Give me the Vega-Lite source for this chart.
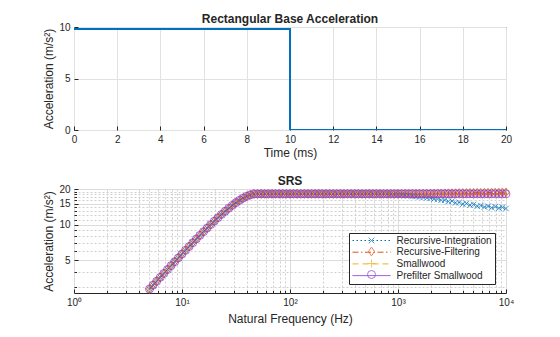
{
  "$schema": "https://vega.github.io/schema/vega-lite/v6.json",
  "background": "white",
  "padding": {"left": 42, "top": 12, "right": 10, "bottom": 5},
  "spacing": 15,
  "resolve": {"legend": {"color": "independent", "strokeDash": "independent", "stroke": "independent", "shape": "independent"}},
  "config": {
    "font": "Liberation Sans",
    "view": {"stroke": "#262626", "strokeWidth": 1},
    "axis": {
      "domain": false,
      "labelColor": "#262626",
      "labelFontSize": 10,
      "titleColor": "#262626",
      "titleFontSize": 12,
      "titleFontWeight": "normal",
      "tickColor": "#262626",
      "tickSize": -4,
      "labelPadding": 8,
      "titlePadding": 3,
      "gridColor": "#e1e1e1",
      "gridWidth": 1,
      "labelOverlap": false,
      "labelFlush": false
    },
    "title": {"fontSize": 12, "fontWeight": "bold", "color": "#262626", "offset": -4},
    "legend": {"labelFont": "Liberation Sans"}
  },
  "datasets": {
    "pulse": [
      {"t": 0, "a": 9.81},
      {"t": 10, "a": 9.81},
      {"t": 10, "a": 0},
      {"t": 20, "a": 0}
    ],
    "srs": [
      {"f": 5, "ri": 2.863, "rf": 2.863, "sw": 2.863, "ps": 2.863},
      {"f": 5.399, "ri": 3.089, "rf": 3.089, "sw": 3.089, "ps": 3.089},
      {"f": 5.83, "ri": 3.333, "rf": 3.333, "sw": 3.333, "ps": 3.333},
      {"f": 6.295, "ri": 3.595, "rf": 3.595, "sw": 3.595, "ps": 3.595},
      {"f": 6.797, "ri": 3.878, "rf": 3.878, "sw": 3.878, "ps": 3.878},
      {"f": 7.34, "ri": 4.183, "rf": 4.183, "sw": 4.183, "ps": 4.183},
      {"f": 7.925, "ri": 4.509, "rf": 4.509, "sw": 4.509, "ps": 4.509},
      {"f": 8.558, "ri": 4.861, "rf": 4.861, "sw": 4.861, "ps": 4.861},
      {"f": 9.241, "ri": 5.238, "rf": 5.238, "sw": 5.238, "ps": 5.238},
      {"f": 9.979, "ri": 5.644, "rf": 5.644, "sw": 5.644, "ps": 5.644},
      {"f": 10.775, "ri": 6.077, "rf": 6.077, "sw": 6.077, "ps": 6.077},
      {"f": 11.634, "ri": 6.541, "rf": 6.541, "sw": 6.541, "ps": 6.541},
      {"f": 12.563, "ri": 7.037, "rf": 7.037, "sw": 7.037, "ps": 7.037},
      {"f": 13.566, "ri": 7.566, "rf": 7.566, "sw": 7.566, "ps": 7.566},
      {"f": 14.648, "ri": 8.128, "rf": 8.128, "sw": 8.128, "ps": 8.128},
      {"f": 15.817, "ri": 8.724, "rf": 8.724, "sw": 8.724, "ps": 8.724},
      {"f": 17.079, "ri": 9.354, "rf": 9.354, "sw": 9.354, "ps": 9.354},
      {"f": 18.443, "ri": 10.02, "rf": 10.02, "sw": 10.02, "ps": 10.02},
      {"f": 19.914, "ri": 10.716, "rf": 10.716, "sw": 10.716, "ps": 10.716},
      {"f": 21.503, "ri": 11.447, "rf": 11.447, "sw": 11.447, "ps": 11.447},
      {"f": 23.219, "ri": 12.195, "rf": 12.195, "sw": 12.195, "ps": 12.195},
      {"f": 25.072, "ri": 12.968, "rf": 12.968, "sw": 12.968, "ps": 12.968},
      {"f": 27.073, "ri": 13.754, "rf": 13.754, "sw": 13.754, "ps": 13.754},
      {"f": 29.233, "ri": 14.541, "rf": 14.541, "sw": 14.541, "ps": 14.541},
      {"f": 31.567, "ri": 15.317, "rf": 15.317, "sw": 15.317, "ps": 15.317},
      {"f": 34.085, "ri": 16.06, "rf": 16.06, "sw": 16.06, "ps": 16.06},
      {"f": 36.805, "ri": 16.752, "rf": 16.752, "sw": 16.752, "ps": 16.752},
      {"f": 39.743, "ri": 17.36, "rf": 17.36, "sw": 17.36, "ps": 17.36},
      {"f": 42.916, "ri": 17.85, "rf": 17.85, "sw": 17.85, "ps": 17.85},
      {"f": 46.338, "ri": 18.18, "rf": 18.18, "sw": 18.18, "ps": 18.18},
      {"f": 50.04, "ri": 18.2, "rf": 18.2, "sw": 18.2, "ps": 18.2},
      {"f": 54.03, "ri": 18.2, "rf": 18.2, "sw": 18.2, "ps": 18.2},
      {"f": 58.34, "ri": 18.2, "rf": 18.2, "sw": 18.2, "ps": 18.2},
      {"f": 62.99, "ri": 18.2, "rf": 18.2, "sw": 18.2, "ps": 18.2},
      {"f": 68.02, "ri": 18.2, "rf": 18.2, "sw": 18.2, "ps": 18.2},
      {"f": 73.45, "ri": 18.2, "rf": 18.2, "sw": 18.2, "ps": 18.2},
      {"f": 79.31, "ri": 18.2, "rf": 18.2, "sw": 18.2, "ps": 18.2},
      {"f": 85.64, "ri": 18.2, "rf": 18.2, "sw": 18.2, "ps": 18.2},
      {"f": 92.47, "ri": 18.2, "rf": 18.2, "sw": 18.2, "ps": 18.2},
      {"f": 99.86, "ri": 18.2, "rf": 18.2, "sw": 18.2, "ps": 18.2},
      {"f": 107.8, "ri": 18.2, "rf": 18.2, "sw": 18.2, "ps": 18.2},
      {"f": 116.4, "ri": 18.2, "rf": 18.2, "sw": 18.2, "ps": 18.2},
      {"f": 125.7, "ri": 18.2, "rf": 18.2, "sw": 18.2, "ps": 18.2},
      {"f": 135.8, "ri": 18.2, "rf": 18.2, "sw": 18.2, "ps": 18.2},
      {"f": 146.6, "ri": 18.2, "rf": 18.2, "sw": 18.2, "ps": 18.2},
      {"f": 158.3, "ri": 18.2, "rf": 18.2, "sw": 18.2, "ps": 18.2},
      {"f": 170.9, "ri": 18.2, "rf": 18.2, "sw": 18.2, "ps": 18.2},
      {"f": 184.6, "ri": 18.2, "rf": 18.2, "sw": 18.2, "ps": 18.2},
      {"f": 199.3, "ri": 18.2, "rf": 18.2, "sw": 18.2, "ps": 18.2},
      {"f": 215.2, "ri": 18.2, "rf": 18.2, "sw": 18.2, "ps": 18.2},
      {"f": 232.4, "ri": 18.2, "rf": 18.2, "sw": 18.2, "ps": 18.2},
      {"f": 250.9, "ri": 18.2, "rf": 18.2, "sw": 18.2, "ps": 18.2},
      {"f": 270.9, "ri": 18.2, "rf": 18.2, "sw": 18.2, "ps": 18.2},
      {"f": 292.6, "ri": 18.2, "rf": 18.2, "sw": 18.2, "ps": 18.2},
      {"f": 315.9, "ri": 18.2, "rf": 18.2, "sw": 18.2, "ps": 18.2},
      {"f": 341.1, "ri": 18.2, "rf": 18.2, "sw": 18.2, "ps": 18.2},
      {"f": 368.3, "ri": 18.2, "rf": 18.2, "sw": 18.2, "ps": 18.2},
      {"f": 397.7, "ri": 18.2, "rf": 18.2, "sw": 18.2, "ps": 18.2},
      {"f": 429.5, "ri": 18.2, "rf": 18.2, "sw": 18.2, "ps": 18.2},
      {"f": 463.7, "ri": 18.2, "rf": 18.2, "sw": 18.2, "ps": 18.2},
      {"f": 500.7, "ri": 18.2, "rf": 18.2, "sw": 18.2, "ps": 18.2},
      {"f": 540.7, "ri": 18.2, "rf": 18.2, "sw": 18.2, "ps": 18.2},
      {"f": 583.8, "ri": 18.2, "rf": 18.2, "sw": 18.2, "ps": 18.2},
      {"f": 630.4, "ri": 18.2, "rf": 18.2, "sw": 18.2, "ps": 18.2},
      {"f": 680.7, "ri": 18.2, "rf": 18.2, "sw": 18.2, "ps": 18.2},
      {"f": 735, "ri": 18.2, "rf": 18.2, "sw": 18.2, "ps": 18.2},
      {"f": 793.7, "ri": 18.18, "rf": 18.2, "sw": 18.2, "ps": 18.2},
      {"f": 857, "ri": 18.1, "rf": 18.2, "sw": 18.2, "ps": 18.2},
      {"f": 925.4, "ri": 18.05, "rf": 18.2, "sw": 18.2, "ps": 18.2},
      {"f": 999.3, "ri": 17.95, "rf": 18.2, "sw": 18.2, "ps": 18.2},
      {"f": 1079, "ri": 17.85, "rf": 18.2, "sw": 18.2, "ps": 18.2},
      {"f": 1165, "ri": 17.7, "rf": 18.2, "sw": 18.2, "ps": 18.2},
      {"f": 1258, "ri": 17.6, "rf": 18.2, "sw": 18.2, "ps": 18.2},
      {"f": 1359, "ri": 17.4, "rf": 18.2, "sw": 18.2, "ps": 18.2},
      {"f": 1467, "ri": 17.3, "rf": 18.2, "sw": 18.2, "ps": 18.2},
      {"f": 1584, "ri": 17.1, "rf": 18.2, "sw": 18.2, "ps": 18.2},
      {"f": 1711, "ri": 17.0, "rf": 18.25, "sw": 18.2, "ps": 18.2},
      {"f": 1847, "ri": 16.8, "rf": 18.25, "sw": 18.2, "ps": 18.2},
      {"f": 1995, "ri": 16.7, "rf": 18.3, "sw": 18.2, "ps": 18.2},
      {"f": 2154, "ri": 16.45, "rf": 18.3, "sw": 18.2, "ps": 18.2},
      {"f": 2326, "ri": 16.4, "rf": 18.35, "sw": 18.2, "ps": 18.2},
      {"f": 2511, "ri": 16.1, "rf": 18.35, "sw": 18.2, "ps": 18.2},
      {"f": 2712, "ri": 16.1, "rf": 18.4, "sw": 18.2, "ps": 18.2},
      {"f": 2928, "ri": 15.7, "rf": 18.4, "sw": 18.2, "ps": 18.2},
      {"f": 3161, "ri": 15.8, "rf": 18.45, "sw": 18.2, "ps": 18.2},
      {"f": 3414, "ri": 15.3, "rf": 18.45, "sw": 18.2, "ps": 18.2},
      {"f": 3686, "ri": 15.4, "rf": 18.5, "sw": 18.2, "ps": 18.2},
      {"f": 3980, "ri": 14.9, "rf": 18.5, "sw": 18.2, "ps": 18.2},
      {"f": 4298, "ri": 15.1, "rf": 18.55, "sw": 18.2, "ps": 18.2},
      {"f": 4641, "ri": 14.6, "rf": 18.55, "sw": 18.2, "ps": 18.2},
      {"f": 5011, "ri": 14.8, "rf": 18.6, "sw": 18.2, "ps": 18.2},
      {"f": 5411, "ri": 14.3, "rf": 18.6, "sw": 18.2, "ps": 18.2},
      {"f": 5843, "ri": 14.5, "rf": 18.6, "sw": 18.2, "ps": 18.2},
      {"f": 6309, "ri": 14.1, "rf": 18.65, "sw": 18.2, "ps": 18.2},
      {"f": 6812, "ri": 14.3, "rf": 18.65, "sw": 18.2, "ps": 18.2},
      {"f": 7356, "ri": 13.9, "rf": 18.7, "sw": 18.2, "ps": 18.2},
      {"f": 7943, "ri": 14.2, "rf": 18.7, "sw": 18.2, "ps": 18.2},
      {"f": 8577, "ri": 13.8, "rf": 18.7, "sw": 18.2, "ps": 18.2},
      {"f": 9261, "ri": 14.0, "rf": 18.75, "sw": 18.2, "ps": 18.2},
      {"f": 10000, "ri": 13.7, "rf": 18.75, "sw": 18.2, "ps": 18.2}
    ]
  },
  "vconcat": [
    {
      "width": 432,
      "height": 103,
      "title": "Rectangular Base Acceleration",
      "data": {"name": "pulse"},
      "mark": {"type": "line", "color": "#0072BD", "strokeWidth": 2, "clip": true},
      "encoding": {
        "x": {
          "field": "t", "type": "quantitative",
          "scale": {"domain": [0, 20], "nice": false},
          "axis": {"title": "Time (ms)", "values": [0, 2, 4, 6, 8, 10, 12, 14, 16, 18, 20], "grid": true}
        },
        "y": {
          "field": "a", "type": "quantitative",
          "scale": {"domain": [0, 10], "nice": false},
          "axis": {"title": "Acceleration (m/s²)", "values": [0, 5, 10], "grid": true}
        }
      }
    },
    {
      "width": 432,
      "height": 104,
      "title": "SRS",
      "data": {"name": "srs"},
      "resolve": {"legend": {"color": "independent", "strokeDash": "independent", "stroke": "independent", "shape": "independent"}},
      "encoding": {
        "x": {
          "field": "f", "type": "quantitative",
          "scale": {"type": "log", "domain": [1, 10000], "nice": false},
          "axis": {
            "title": "Natural Frequency (Hz)",
            "titlePadding": 5,
            "values": [1, 2, 3, 4, 5, 6, 7, 8, 9, 10, 20, 30, 40, 50, 60, 70, 80, 90, 100, 200, 300, 400, 500, 600, 700, 800, 900, 1000, 2000, 3000, 4000, 5000, 6000, 7000, 8000, 9000, 10000],
            "labelExpr": "datum.value == 1 ? '10⁰' : datum.value == 10 ? '10¹' : datum.value == 100 ? '10²' : datum.value == 1000 ? '10³' : datum.value == 10000 ? '10⁴' : ''",
            "grid": true,
            "gridDash": {"condition": {"test": "indexof([1, 10, 100, 1000, 10000], datum.value) >= 0", "value": []}, "value": [2, 2]},
            "gridColor": {"condition": {"test": "indexof([1, 10, 100, 1000, 10000], datum.value) >= 0", "value": "#dcdcdc"}, "value": "#cfcfcf"},
            "tickSize": {"condition": {"test": "indexof([1, 10, 100, 1000, 10000], datum.value) >= 0", "value": -4}, "value": -2.5}
          }
        },
        "y": {
          "field": "acc", "type": "quantitative",
          "scale": {"type": "log", "domain": [2.65, 20], "nice": false, "zero": false},
          "axis": {
            "title": "Acceleration (m/s²)",
            "values": [3, 4, 5, 6, 7, 8, 9, 10, 11, 12, 13, 14, 15, 16, 17, 18, 19, 20],
            "labelExpr": "indexof([5, 10, 15, 20], datum.value) >= 0 ? '' + datum.value : ''",
            "grid": true,
            "gridDash": {"condition": {"test": "indexof([5, 10, 15, 20], datum.value) >= 0", "value": []}, "value": [2, 2]},
            "gridColor": {"condition": {"test": "indexof([5, 10, 15, 20], datum.value) >= 0", "value": "#dcdcdc"}, "value": "#cfcfcf"},
            "tickSize": {"condition": {"test": "indexof([5, 10, 15, 20], datum.value) >= 0", "value": -4}, "value": -2.5}
          }
        }
      },
      "layer": [
        {
          "transform": [{"fold": ["ri", "rf", "sw", "ps"], "as": ["series", "acc"]}],
          "mark": {"type": "line", "strokeWidth": 1, "clip": true},
          "encoding": {
            "color": {
              "field": "series", "type": "nominal",
              "scale": {"domain": ["ri", "rf", "sw", "ps", "none"], "range": ["#0072BD", "#D95319", "#EDB120", "#8A35D6", "#999999"]},
              "legend": {
                "title": null, "orient": "none", "legendX": 275, "legendY": 44, "zindex": 1,
                "values": ["ri", "rf", "sw", "ps"],
                "symbolType": "M-4.75,0H4.75", "symbolSize": 64, "symbolOffset": 15, "symbolStrokeWidth": 1,
                "labelOffset": 20, "labelFontSize": 10, "labelColor": "#262626",
                "padding": 2.5, "rowPadding": 1.7,
                "strokeColor": "#262626", "fillColor": "white",
                "labelExpr": "datum.label == 'ri' ? 'Recursive-Integration' : datum.label == 'rf' ? 'Recursive-Filtering' : datum.label == 'sw' ? 'Smallwood' : 'Prefilter Smallwood'"
              }
            },
            "strokeDash": {
              "field": "series", "type": "nominal",
              "scale": {"domain": ["ri", "rf", "sw", "ps", "none"], "range": [[1.5, 2.5], [6, 2.5, 1.5, 2.5], [6, 4], [1, 0], [1, 0]]},
              "legend": {
                "title": null, "orient": "none", "legendX": 275, "legendY": 44, "zindex": 1,
                "values": ["ri", "rf", "sw", "ps"],
                "symbolType": "M-4.75,0H4.75", "symbolSize": 64, "symbolOffset": 15, "symbolStrokeWidth": 1,
                "labelOffset": 20, "labelFontSize": 10, "labelColor": "#262626",
                "padding": 2.5, "rowPadding": 1.7,
                "strokeColor": "#262626", "fillColor": "white",
                "labelExpr": "datum.label == 'ri' ? 'Recursive-Integration' : datum.label == 'rf' ? 'Recursive-Filtering' : datum.label == 'sw' ? 'Smallwood' : 'Prefilter Smallwood'"
              }
            }
          }
        },
        {
          "transform": [{"fold": ["ri", "rf", "sw", "ps"], "as": ["method", "acc"]}],
          "mark": {"type": "point", "filled": false, "strokeWidth": 1, "size": 64},
          "encoding": {
            "stroke": {
              "field": "method", "type": "nominal",
              "scale": {"domain": ["ri", "rf", "sw", "ps"], "range": ["#0072BD", "#D95319", "#EDB120", "#8A35D6"]},
              "legend": {
                "title": null, "orient": "none", "legendX": 275, "legendY": 44, "zindex": 2,
                "symbolSize": 64, "symbolOffset": 15, "symbolStrokeWidth": 1, "symbolFillColor": "transparent",
                "labelOffset": 20, "labelFontSize": 10, "labelColor": "transparent",
                "padding": 2.5, "rowPadding": -1,
                "labelExpr": "' '"
              }
            },
            "shape": {
              "field": "method", "type": "nominal",
              "scale": {"domain": ["ri", "rf", "sw", "ps"], "range": ["M-0.7,-0.7L0.7,0.7M-0.7,0.7L0.7,-0.7", "M0,-1.1L0.75,0L0,1.1L-0.75,0Z", "M-1,0H1M0,-1V1", "circle"]},
              "legend": {
                "title": null, "orient": "none", "legendX": 275, "legendY": 44, "zindex": 2,
                "symbolSize": 64, "symbolOffset": 15, "symbolStrokeWidth": 1, "symbolFillColor": "transparent",
                "labelOffset": 20, "labelFontSize": 10, "labelColor": "transparent",
                "padding": 2.5, "rowPadding": -1,
                "labelExpr": "' '"
              }
            },
            "order": {"field": "method", "sort": "descending"}
          }
        }
      ]
    }
  ]
}
